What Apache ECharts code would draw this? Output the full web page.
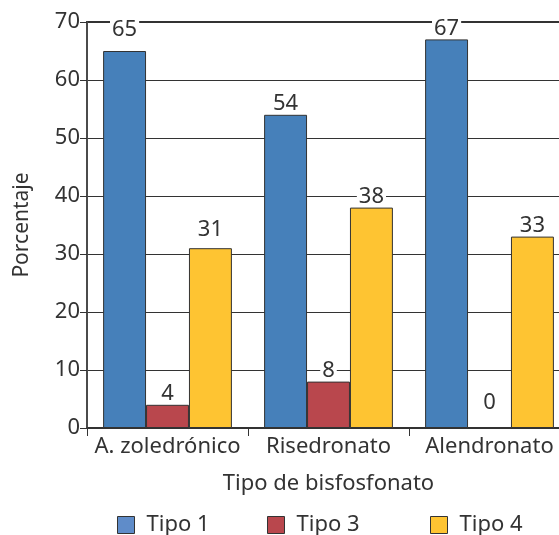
<!DOCTYPE html>
<html>
<head>
<meta charset="utf-8">
<script src="https://cdn.jsdelivr.net/npm/echarts@6/dist/echarts.min.js"></script>
<style>html,body{margin:0;padding:0;background:#fff}#c{width:559px;height:535px}</style>
</head>
<body>
<div id="c"></div>
<script>
const categories = ['A. zoledrónico', 'Risedronato', 'Alendronato'];
const seriesNames = ['Tipo 1', 'Tipo 3', 'Tipo 4'];
const tipo1 = [65, 54, 67];
const tipo3 = [4, 8, 0];
const tipo4 = [31, 38, 33];
const yTicks = [0, 10, 20, 30, 40, 50, 60, 70];

const colors = ['#4680BA', '#B9474D', '#FEC432'];
const legendColors = ['#5F8CC9', '#B9474D', '#FEC432'];
const FONT = 'Noto Sans';
const TXT = '#333';
const FS = 22;
// label distance tweaks per series (style only)
const labelDist = [[11, 1, 1], [1, 1, 15], [8, 1, 1]];
const legendLeft = [117, 267, 430];

const allData = [tipo1, tipo3, tipo4];
const chart = echarts.init(document.getElementById('c'), null, {renderer: 'canvas'});
chart.setOption({
  animation: false,
  textStyle: {fontFamily: FONT},
  grid: {left: 87, top: 22, height: 406, width: 483, outerBoundsMode: 'none', containLabel: false,
    show: true, borderColor: '#333', borderWidth: 2, backgroundColor: 'transparent'},
  legend: seriesNames.map((n, i) => ({
    left: legendLeft[i], top: 514, padding: 0, itemWidth: 17, itemHeight: 17,
    icon: 'rect',
    textStyle: {fontSize: FS, color: TXT, fontFamily: FONT, padding: [0, 0, 0, 7], lineHeight: 22},
    data: [{name: n, itemStyle: {color: legendColors[i], borderColor: '#333', borderWidth: 1}}]
  })),
  xAxis: {
    type: 'category', data: categories,
    name: 'Tipo de bisfosfonato', nameLocation: 'middle', nameGap: 45,
    nameTextStyle: {fontSize: FS, color: TXT, fontFamily: FONT},
    axisLine: {lineStyle: {color: '#333', width: 1.5}},
    axisTick: {show: true, length: 8, lineStyle: {color: '#333'}},
    axisLabel: {fontSize: FS, color: TXT, margin: 8, fontFamily: FONT, interval: 0},
  },
  yAxis: {
    type: 'value', min: 0, max: 70, interval: 10,
    name: 'Porcentaje', nameLocation: 'middle', nameGap: 54,
    nameTextStyle: {fontSize: FS - 1, color: TXT, fontFamily: FONT},
    axisLine: {show: true, lineStyle: {color: '#555', width: 1.5}},
    axisTick: {show: true, length: 7, lineStyle: {color: '#333'}},
    axisLabel: {fontSize: FS, color: TXT, margin: 7, fontFamily: FONT,
      formatter: v => yTicks.includes(v) ? String(v) : ''},
    splitLine: {show: true, lineStyle: {color: '#333', width: 1}}
  },
  series: allData.map((arr, si) => ({
    name: seriesNames[si], type: 'bar', barGap: '0%', barCategoryGap: '20%',
    itemStyle: {color: colors[si], borderColor: '#333', borderWidth: 1},
    data: arr.map((v, ci) => ({value: v, label: {distance: labelDist[si][ci]}})),
    label: {show: true, position: 'top', fontSize: FS, color: TXT, fontFamily: FONT,
      backgroundColor: '#fff', padding: [0, 2, 0, 2], lineHeight: 20}
  }))
});
</script>
</body>
</html>
